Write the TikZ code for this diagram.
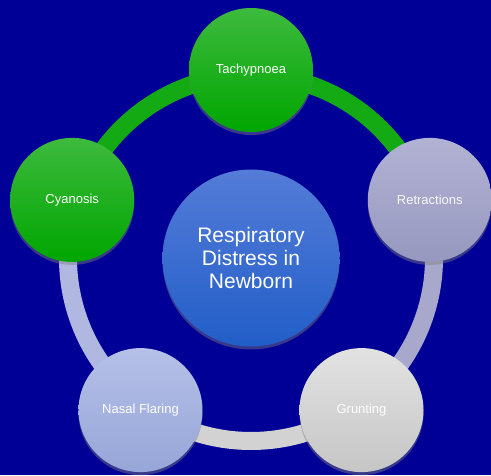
\documentclass[tikz,border=0pt]{standalone}
\usepackage{fontspec}
\setmainfont{Liberation Sans}
\usetikzlibrary{shadows}
\definecolor{bgblue}{RGB}{0,0,150}
\definecolor{hubtop}{RGB}{84,124,216}
\definecolor{hubbot}{RGB}{34,94,200}
\definecolor{grtop}{RGB}{62,186,62}
\definecolor{grbot}{RGB}{0,166,0}
\definecolor{ringgreen}{RGB}{20,170,20}
\definecolor{retop}{RGB}{178,178,212}
\definecolor{rebot}{RGB}{150,152,190}
\definecolor{rering}{RGB}{168,168,204}
\definecolor{gutop}{RGB}{226,226,226}
\definecolor{gubot}{RGB}{198,198,198}
\definecolor{guring}{RGB}{210,210,210}
\definecolor{natop}{RGB}{182,192,232}
\definecolor{nabot}{RGB}{150,166,216}
\definecolor{naring}{RGB}{176,184,226}
\pgfdeclarelayer{bg}
\pgfdeclarelayer{ring}
\pgfsetlayers{bg,ring,main}
\begin{document}
\begin{tikzpicture}[x=1pt, y=1pt,
  hub/.style = {circle, minimum size=177pt, inner sep=0pt, align=center, text=white,
    font=\fontsize{21}{23}\selectfont, top color=hubtop, bottom color=hubbot,
    drop shadow={shadow xshift=0pt, shadow yshift=-3pt, opacity=0.45}},
  leaf/.style = {circle, minimum size=124pt, inner sep=0pt, text=white,
    font=\fontsize{13}{15}\selectfont,
    drop shadow={shadow xshift=0pt, shadow yshift=-3pt, opacity=0.45}},
  ring/.style = {line width=18pt}]
\begin{pgfonlayer}{bg}
\fill[bgblue] (0,0) rectangle (491,475);
\end{pgfonlayer}
\useasboundingbox (0,0) rectangle (491,475);

\node[hub] (hub) at (251,217) {Respiratory\\Distress in\\Newborn};

\node[leaf, top color=grtop, bottom color=grbot] (tachy) at ([shift={(90:188)}]hub) {Tachypnoea};
\node[leaf, top color=retop, bottom color=rebot, text=white!92!retop] (retr) at ([shift={(18:188)}]hub) {Retractions};
\node[leaf, top color=gutop, bottom color=gubot] (grunt) at ([shift={(-54:188)}]hub) {Grunting};
\node[leaf, top color=natop, bottom color=nabot] (nasal) at ([shift={(-126:188)}]hub) {Nasal Flaring};
\node[leaf, top color=grtop, bottom color=grbot] (cyan) at ([shift={(162:188)}]hub) {Cyanosis};

% ring behind the circles
\begin{pgfonlayer}{ring}
\draw[ring, ringgreen] ([shift={(162:183)}]hub.center) arc[start angle=162, end angle=18, radius=183];
\draw[ring, rering] ([shift={(18:183)}]hub.center) arc[start angle=18, end angle=-54, radius=183];
\draw[ring, guring] ([shift={(-54:183)}]hub.center) arc[start angle=-54, end angle=-126, radius=183];
\draw[ring, naring] ([shift={(-126:183)}]hub.center) arc[start angle=-126, end angle=-198, radius=183];
\end{pgfonlayer}

\end{tikzpicture}
\end{document}
